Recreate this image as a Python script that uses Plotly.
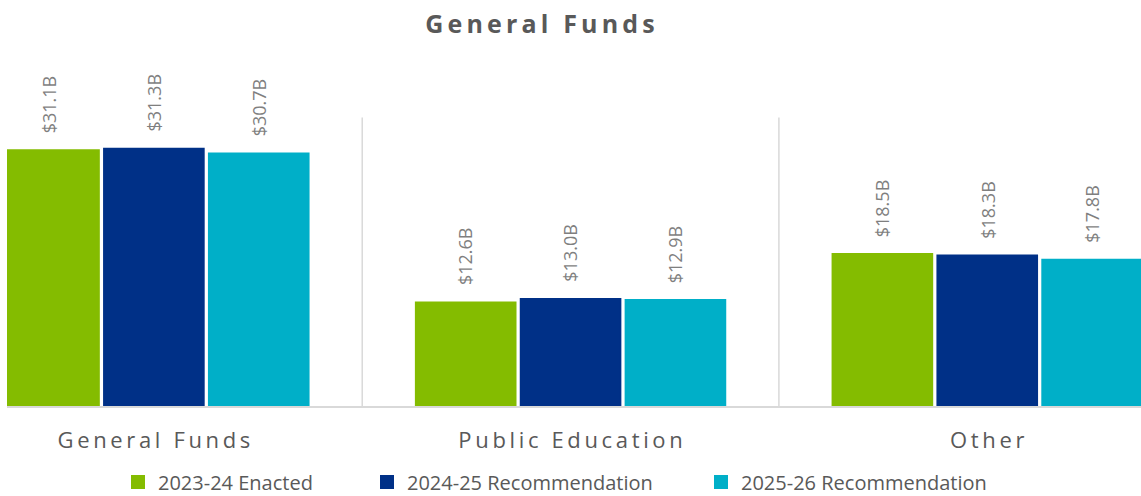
import plotly.graph_objects as go

categories = ["General Funds", "Public Education", "Other"]
series_names = ["2023-24 Enacted", "2024-25 Recommendation", "2025-26 Recommendation"]
enacted_2324 = [31.1, 12.6, 18.5]
rec_2425 = [31.3, 13.0, 18.3]
rec_2526 = [30.7, 12.9, 17.8]
values = [enacted_2324, rec_2425, rec_2526]
colors = ["#84BC00", "#003087", "#00AFC8"]
legend_widths = [204, 289, 260]
title_text = "General Funds"

TS = "\u2009"  # thin space used to imitate letter spacing


def spaced(s, sep=TS):
    return sep.join(list(s))


W, H = 1141, 496
ML, MR, MT, MB = 7, 0, 110, 90
X_RANGE = [-0.3525, 2.369]
BARGAP = 0.245
px_per_cat = (W - ML - MR) / (X_RANGE[1] - X_RANGE[0])
slot_px = px_per_cat * (1 - BARGAP) / len(series_names)

fig = go.Figure()
annotations = []
for i, (name, vals, col) in enumerate(zip(series_names, values, colors)):
    fig.add_trace(go.Bar(
        x=categories, y=vals, name=name,
        marker=dict(color=col, line=dict(width=2, color=col)),
        hoverinfo="skip",
        legendwidth=legend_widths[i],
    ))
    for c, v in zip(categories, vals):
        annotations.append(dict(
            x=c, y=v, xref="x", yref="y", text=f"${v:.1f}B", showarrow=False,
            textangle=-90, xanchor="center", yanchor="bottom",
            xshift=(i - 1) * slot_px, yshift=15,
            font=dict(family="Open Sans", size=18, color="#7F7F7F"),
        ))

shapes = []
for xs in [0.5, 1.5]:
    shapes.append(dict(type="line", xref="x", yref="y", x0=xs, x1=xs, y0=0, y1=35.1,
                       line=dict(color="#D9D9D9", width=1.5)))

fig.update_layout(
    width=W, height=H,
    margin=dict(l=ML, r=MR, t=MT, b=MB),
    paper_bgcolor="white", plot_bgcolor="white",
    barmode="group", bargap=BARGAP, bargroupgap=0.05,
    title=dict(text=spaced(title_text), x=540 / W, xanchor="center", xref="container",
               y=1 - 24 / H, yanchor="middle", yref="container",
               font=dict(family="Open Sans", size=25, color="#595959", weight="bold")),
    xaxis=dict(range=X_RANGE, showline=True, linecolor="#D9D9D9", linewidth=1.5,
               showgrid=False, ticks="", tickfont=dict(family="Open Sans", size=22, color="#595959"),
               tickvals=categories, ticktext=[spaced(c) for c in categories],
               ticklabelstandoff=14),
    yaxis=dict(range=[0, 36], visible=False, showgrid=False),
    shapes=shapes,
    annotations=annotations,
    showlegend=True,
    legend=dict(orientation="h", xref="container", yref="container",
                x=118 / W, xanchor="left", y=1 - 482 / H, yanchor="middle",
                font=dict(family="Open Sans", size=20, color="#595959"),
                traceorder="normal"),
    font=dict(family="Open Sans"),
)

fig.write_html("out.html", config={"displayModeBar": False},
               post_script="document.body.style.margin='0';document.body.style.overflow='hidden';")
